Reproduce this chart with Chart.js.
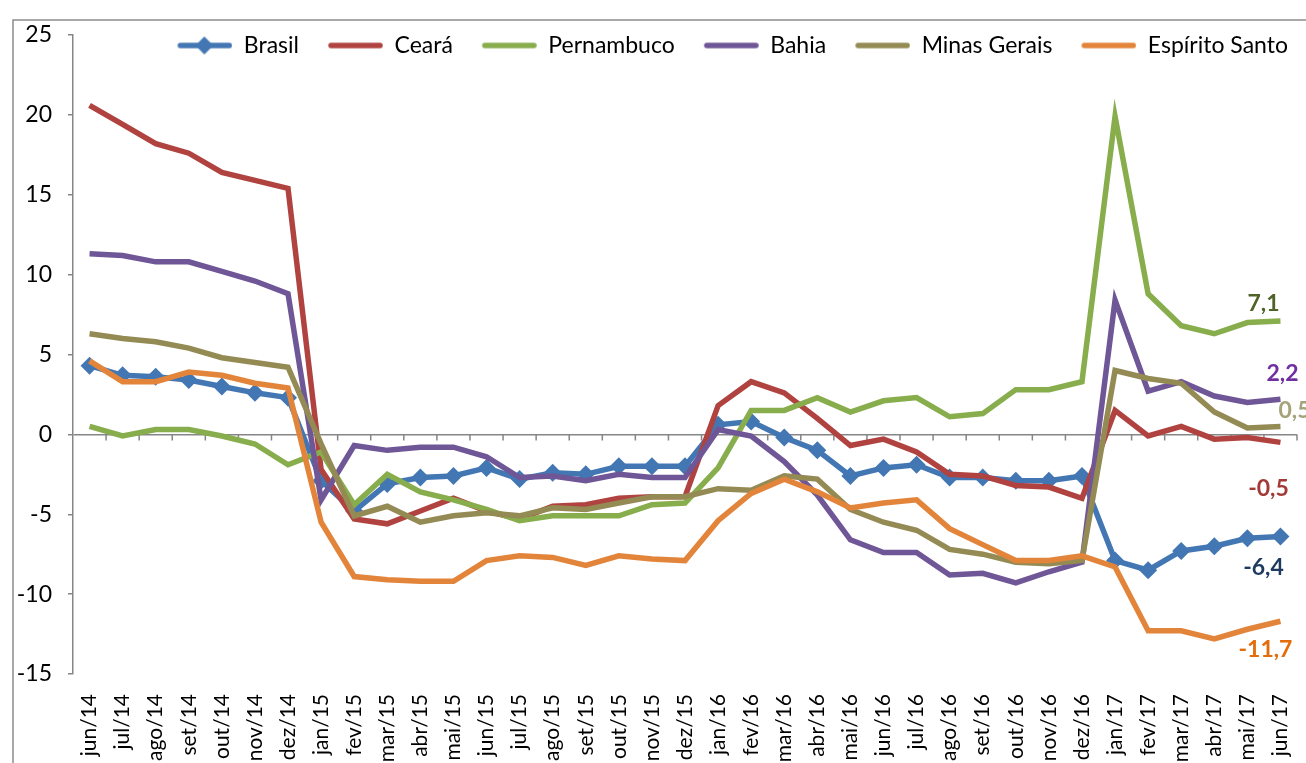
<!DOCTYPE html>
<html lang="pt">
<head>
<meta charset="UTF-8">
<title>Brasil e estados - variação (%)</title>
<script src="https://cdn.jsdelivr.net/npm/chart.js"></script>
<style>
  html, body { margin: 0; padding: 0; background: #fff; }
  #wrap { position: relative; width: 1306px; height: 763px; }
</style>
</head>
<body>
<div id="wrap"><canvas id="chart"></canvas></div>
<script>
const months = ['jun/14','jul/14','ago/14','set/14','out/14','nov/14','dez/14',
  'jan/15','fev/15','mar/15','abr/15','mai/15','jun/15','jul/15','ago/15','set/15','out/15','nov/15','dez/15',
  'jan/16','fev/16','mar/16','abr/16','mai/16','jun/16','jul/16','ago/16','set/16','out/16','nov/16','dez/16',
  'jan/17','fev/17','mar/17','abr/17','mai/17','jun/17'];

const brasil = [4.3, 3.7, 3.6, 3.4, 3.0, 2.6, 2.3, -2.9, -4.8, -3.1, -2.7, -2.6, -2.1, -2.8, -2.4, -2.5, -2.0, -2.0, -2.0,
  0.6, 0.8, -0.2, -1.0, -2.6, -2.1, -1.9, -2.7, -2.7, -2.9, -2.9, -2.6, -7.9, -8.5, -7.3, -7.0, -6.5, -6.4];
const ceara = [20.6, 19.4, 18.2, 17.6, 16.4, 15.9, 15.4, -2.2, -5.3, -5.6, -4.8, -4.0, -4.8, -5.3, -4.5, -4.4, -4.0, -3.9, -3.9,
  1.8, 3.3, 2.6, 1.0, -0.7, -0.3, -1.1, -2.5, -2.6, -3.2, -3.3, -4.0, 1.5, -0.1, 0.5, -0.3, -0.2, -0.5];
const pernambuco = [0.5, -0.1, 0.3, 0.3, -0.1, -0.6, -1.9, -1.1, -4.4, -2.5, -3.6, -4.1, -4.7, -5.4, -5.1, -5.1, -5.1, -4.4, -4.3,
  -2.1, 1.5, 1.5, 2.3, 1.4, 2.1, 2.3, 1.1, 1.3, 2.8, 2.8, 3.3, 19.9, 8.8, 6.8, 6.3, 7.0, 7.1];
const bahia = [11.3, 11.2, 10.8, 10.8, 10.2, 9.6, 8.8, -4.1, -0.7, -1.0, -0.8, -0.8, -1.4, -2.7, -2.6, -2.9, -2.5, -2.7, -2.7,
  0.3, -0.1, -1.7, -3.8, -6.6, -7.4, -7.4, -8.8, -8.7, -9.3, -8.6, -8.0, 8.4, 2.7, 3.3, 2.4, 2.0, 2.2];
const minasGerais = [6.3, 6.0, 5.8, 5.4, 4.8, 4.5, 4.2, -0.6, -5.1, -4.5, -5.5, -5.1, -4.9, -5.1, -4.6, -4.7, -4.3, -3.9, -3.9,
  -3.4, -3.5, -2.6, -2.8, -4.7, -5.5, -6.0, -7.2, -7.5, -8.0, -8.1, -7.9, 4.0, 3.5, 3.2, 1.4, 0.4, 0.5];
const espiritoSanto = [4.6, 3.3, 3.3, 3.9, 3.7, 3.2, 2.9, -5.5, -8.9, -9.1, -9.2, -9.2, -7.9, -7.6, -7.7, -8.2, -7.6, -7.8, -7.9,
  -5.4, -3.7, -2.8, -3.6, -4.6, -4.3, -4.1, -5.9, -6.9, -7.9, -7.9, -7.6, -8.3, -12.3, -12.3, -12.8, -12.2, -11.7];

const seriesNames = ['Brasil', 'Ceará', 'Pernambuco', 'Bahia', 'Minas Gerais', 'Espírito Santo'];
const seriesData = [brasil, ceara, pernambuco, bahia, minasGerais, espiritoSanto];
const lineColors = ['#4377b3', '#b0423f', '#88ad4c', '#6f5696', '#948a54', '#e3843b'];
const labelColors = ['#1f3a60', '#a23a37', '#4f6228', '#7030a0', '#a6a27a', '#e46c0a'];
// where each end-of-line value sits, relative to the last point
const endLabelOffsets = [[-17, 31], [-12, 46], [-17, -17], [2, -26], [14, -16], [-15, 28]];

Chart.defaults.font.family = 'Lato';
Chart.defaults.color = '#000';

function legendIcon(color, diamond) {
  const c = document.createElement('canvas');
  c.width = 83; c.height = 20;
  const g = c.getContext('2d');
  g.strokeStyle = color; g.lineWidth = 5.5; g.lineCap = 'round';
  g.beginPath(); g.moveTo(31, 10); g.lineTo(80, 10); g.stroke();
  if (diamond) {
    g.fillStyle = color;
    g.beginPath(); g.moveTo(55, 1); g.lineTo(64, 10); g.lineTo(55, 19); g.lineTo(46, 10); g.closePath(); g.fill();
  }
  return c;
}
const legendIcons = lineColors.map((c, i) => legendIcon(c, i === 0));

// legend sits inside the plot: no height in the layout, a real box for drawing
const legendInside = {
  id: 'legendInside',
  afterInit(chart) {
    const lg = chart.legend;
    const fit = lg.fit.bind(lg);
    lg.fit = function () {
      fit();
      this.height = 0;
      if (this.lineWidths && this.lineWidths.length) this.lineWidths[0] += 14;
    };
  },
  afterLayout(chart) {
    const lg = chart.legend;
    lg.top -= 2;
    lg.height = 40;
    lg.bottom = lg.top + 40;
  }
};

const frame = {
  id: 'frame',
  beforeDraw(chart) {
    const ctx = chart.ctx;
    ctx.save();
    ctx.strokeStyle = '#8c8c8c';
    ctx.lineWidth = 1.5;
    ctx.beginPath();
    ctx.moveTo(13, 763); ctx.lineTo(13, 20); ctx.lineTo(1306, 20);
    ctx.stroke();
    ctx.restore();
  }
};

const zeroTicks = {
  id: 'zeroTicks',
  beforeDatasetsDraw(chart) {
    const x = chart.scales.x, y = chart.scales.y;
    const y0 = y.getPixelForValue(0);
    const step = x.getPixelForValue(1) - x.getPixelForValue(0);
    const ctx = chart.ctx;
    ctx.save();
    ctx.strokeStyle = '#868686';
    ctx.lineWidth = 1.5;
    ctx.beginPath();
    for (let i = 1; i <= months.length; i++) {
      const px = x.getPixelForValue(0) - step / 2 + i * step;
      ctx.moveTo(px, y0); ctx.lineTo(px, y0 + 6);
    }
    ctx.stroke();
    ctx.restore();
  }
};

const endLabels = {
  id: 'endLabels',
  afterDatasetsDraw(chart) {
    const ctx = chart.ctx;
    ctx.save();
    ctx.font = 'bold 23px Lato';
    ctx.textAlign = 'center';
    ctx.textBaseline = 'middle';
    chart.data.datasets.forEach((ds, i) => {
      const meta = chart.getDatasetMeta(i);
      const pt = meta.data[meta.data.length - 1];
      const v = ds.data[ds.data.length - 1];
      ctx.fillStyle = labelColors[i];
      ctx.fillText(v.toFixed(1).replace('.', ','), pt.x + endLabelOffsets[i][0], pt.y + endLabelOffsets[i][1]);
    });
    ctx.restore();
  }
};

new Chart(document.getElementById('chart'), {
  type: 'line',
  data: {
    labels: months,
    datasets: seriesData.map((d, i) => ({
      label: seriesNames[i],
      data: d,
      borderColor: lineColors[i],
      backgroundColor: lineColors[i],
      borderWidth: 5.5,
      tension: 0,
      pointStyle: 'rectRot',
      pointRadius: i === 0 ? 9 : 0,
      pointBorderWidth: 0,
      order: seriesData.length - i
    }))
  },
  options: {
    responsive: true,
    maintainAspectRatio: false,
    animation: false,
    events: [],
    layout: { padding: { left: 13, top: 35, right: 3, bottom: 0 } },
    scales: {
      x: {
        offset: true,
        grid: { display: false, offset: true },
        border: { display: false },
        ticks: { autoSkip: false, maxRotation: 90, minRotation: 90, padding: 12, font: { size: 21 } },
        afterFit(s) { s.height = 89; s.paddingLeft = 0; s.paddingRight = 0; }
      },
      y: {
        min: -15, max: 25,
        ticks: { stepSize: 5, padding: 16, font: { size: 23 } },
        grid: {
          color: c => c.tick && c.tick.value === 0 ? '#868686' : 'transparent',
          lineWidth: 1.5,
          tickColor: '#868686',
          tickLength: 5
        },
        border: { color: '#868686', width: 1.5 },
        afterFit(s) { s.width = 60; }
      }
    },
    plugins: {
      tooltip: { enabled: false },
      legend: {
        position: 'top',
        align: 'end',
        labels: {
          usePointStyle: true,
          pointStyleWidth: 83,
          padding: 1,
          font: { size: 23, lineHeight: 1 },
          generateLabels(chart) {
            const items = Chart.defaults.plugins.legend.labels.generateLabels(chart);
            items.forEach(it => { it.pointStyle = legendIcons[it.datasetIndex]; });
            return items;
          },
          sort: (a, b) => a.datasetIndex - b.datasetIndex
        }
      }
    }
  },
  plugins: [legendInside, frame, zeroTicks, endLabels]
});
</script>
</body>
</html>
